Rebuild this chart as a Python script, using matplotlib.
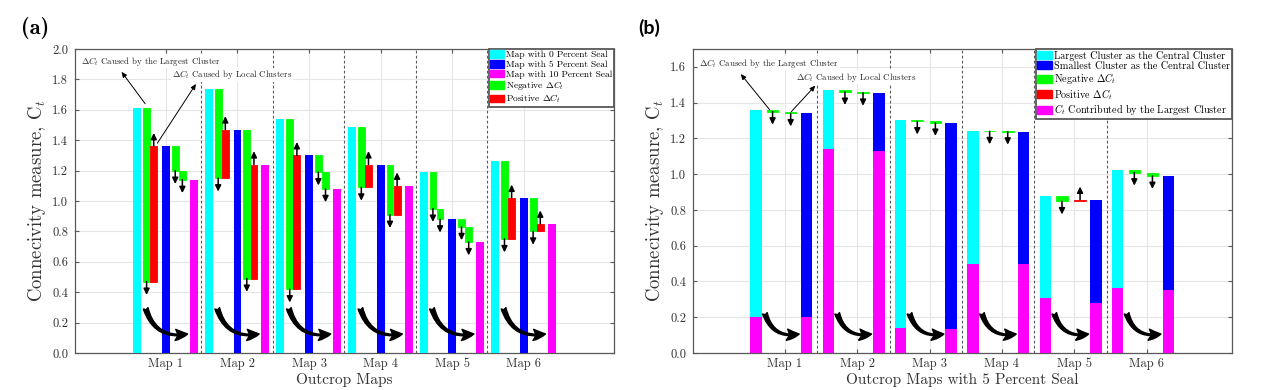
import numpy as np
import matplotlib
matplotlib.use('Agg')
import matplotlib.pyplot as plt
from matplotlib.patches import FancyArrowPatch, Patch

plt.rcParams['font.family'] = 'cmr10'
plt.rcParams['mathtext.fontset'] = 'cm'
plt.rcParams['axes.formatter.use_mathtext'] = True

#Data
maps = ['Map 1', 'Map 2', 'Map 3', 'Map 4', 'Map 5', 'Map 6']

#(a) Ct for seal percentages and intermediate levels
a_seal0 = [1.61, 1.74, 1.54, 1.49, 1.19, 1.26]
a_mid0 = [0.47, 1.15, 0.42, 1.09, 0.95, 0.75]
a_seal5 = [1.36, 1.47, 1.30, 1.24, 0.88, 1.02]
a_mid5 = [1.20, 0.49, 1.19, 0.91, 0.83, 0.80]
a_seal10 = [1.14, 1.24, 1.08, 1.10, 0.73, 0.85]

#(b) Ct with largest / smallest central cluster (5 percent seal)
b_largest = [1.360, 1.468, 1.302, 1.244, 0.878, 1.022]
b_mid = [1.350, 1.460, 1.295, 1.240, 0.848, 1.009]
b_smallest = [1.340, 1.455, 1.287, 1.238, 0.858, 0.990]
b_contrib_largest = [0.20, 1.14, 0.14, 0.50, 0.31, 0.365]
b_contrib_smallest = [0.20, 1.13, 0.135, 0.50, 0.28, 0.355]

CYAN = '#00FFFF'
BLUE = '#0000FF'
MAGENTA = '#FF00FF'
GREEN = '#00FF00'
RED = '#FF0000'

x = np.arange(1, len(maps) + 1)


def small_arrow(ax, xc, y0, up, length):
    y1 = y0 + length if up else y0 - length
    ax.annotate('', xy=(xc, y1), xytext=(xc, y0),
                arrowprops=dict(arrowstyle='-|>,head_length=0.45,head_width=0.22',
                                color='k', lw=1.1, shrinkA=0, shrinkB=0,
                                mutation_scale=8))


def delta_bar(ax, xc, start, end, width, arrow_len):
    col = GREEN if end < start else RED
    ax.bar(xc, abs(end - start), bottom=min(start, end), width=width,
           color=col, edgecolor=col, linewidth=0.6, zorder=3)
    if end < start:
        small_arrow(ax, xc, min(start, end), False, arrow_len)
    else:
        small_arrow(ax, xc, max(start, end), True, arrow_len)


def style_axes(ax, xlim, ymax, yticks, xlabel):
    ax.set_xlim(*xlim)
    ax.set_ylim(0, ymax)
    ax.set_xticks(x)
    ax.set_xticklabels(maps)
    ax.set_yticks(yticks)
    ax.set_yticklabels(['%.1f' % t for t in yticks])
    ax.grid(True, color='0.9', lw=0.8)
    ax.set_axisbelow(True)
    ax.tick_params(direction='in', top=True, right=True, length=3,
                   color='0.35', labelcolor='0.2', labelsize=9)
    ax.tick_params(axis='y', pad=5)
    for s in ax.spines.values():
        s.set_color('0.35')
        s.set_linewidth(0.9)
    ax.set_xlabel(xlabel, fontsize=11, color='0.2', labelpad=2)
    ax.set_ylabel('Connecivity measure, C$_t$', fontsize=13.5, color='0.2', labelpad=3)


def curved_arrow(ax, p0, p1):
    ax.add_patch(FancyArrowPatch(p0, p1, connectionstyle='arc3,rad=0.45',
                                 arrowstyle='fancy,head_length=0.55,head_width=0.5,tail_width=0.22',
                                 mutation_scale=16, color='k', shrinkA=0, shrinkB=0, zorder=4))


def add_legend(ax, colors, labels, size):
    handles = [Patch(facecolor=c, edgecolor=c) for c in colors]
    leg = ax.legend(handles, labels, loc='upper right', fontsize=size, fancybox=False,
                    framealpha=1, edgecolor='0.35', borderaxespad=0, handlelength=1.5,
                    handleheight=0.85, handletextpad=0.2, borderpad=0.15, labelspacing=0.06)
    leg.get_frame().set_linewidth(1.3)


fig = plt.figure(figsize=(12.68, 3.9), dpi=100)
axa = fig.add_axes([75 / 1268, 37 / 390, 539 / 1268, 304 / 390])
axb = fig.add_axes([693 / 1268, 37 / 390, 539 / 1268, 304 / 390])

#Panel (a)
wm, wd = 0.11, 0.095
for i, k in enumerate(x):
    axa.bar(k - 0.40, a_seal0[i], width=wm, color=CYAN, zorder=3)
    axa.bar(k, a_seal5[i], width=wm, color=BLUE, zorder=3)
    axa.bar(k + 0.39, a_seal10[i], width=wm, color=MAGENTA, zorder=3)
    delta_bar(axa, k - 0.27, a_seal0[i], a_mid0[i], wd, 0.088)
    delta_bar(axa, k - 0.17, a_mid0[i], a_seal5[i], wd, 0.088)
    delta_bar(axa, k + 0.13, a_seal5[i], a_mid5[i], wd, 0.088)
    delta_bar(axa, k + 0.23, a_mid5[i], a_seal10[i], wd, 0.088)
    curved_arrow(axa, (k - 0.283, 0.294), (k + 0.303, 0.125))
for k in x[:-1]:
    axa.axvline(k + 0.49, color='0.35', lw=0.8, ls=(0, (2.5, 2)), zorder=2)

style_axes(axa, (-0.27, 7.26), 2.0, np.arange(0, 2.01, 0.2), 'Outcrop Maps')

axa.text(-0.19, 1.921, r'$\Delta C_t$ Caused by the Largest Cluster', fontsize=6.4,
         va='center', ha='left', color='0.15',
         bbox=dict(facecolor='white', edgecolor='none', pad=0.5), zorder=5)
axa.text(1.08, 1.829, r'$\Delta C_t$ Caused by Local Clusters', fontsize=6.4,
         va='center', ha='left', color='0.15',
         bbox=dict(facecolor='white', edgecolor='none', pad=0.5), zorder=5)
axa.annotate('', xy=(0.38, 1.85), xytext=(1 - 0.27 - 0.02, a_seal0[0] + 0.03),
             arrowprops=dict(arrowstyle='-|>,head_length=0.4,head_width=0.18',
                             color='k', lw=0.7, shrinkA=0, shrinkB=0, mutation_scale=8))
axa.annotate('', xy=(1.42, 1.77), xytext=(1 - 0.17 + 0.05, a_seal5[0] + 0.02),
             arrowprops=dict(arrowstyle='-|>,head_length=0.4,head_width=0.18',
                             color='k', lw=0.7, shrinkA=0, shrinkB=0, mutation_scale=8))

add_legend(axa, (CYAN, BLUE, MAGENTA, GREEN, RED),
           ['Map with 0 Percent Seal', 'Map with 5 Percent Seal', 'Map with 10 Percent Seal',
            r'Negative $\Delta C_t$', r'Positive $\Delta C_t$'], 6.8)

#Panel (b)
wb = 0.16
for i, k in enumerate(x):
    axb.bar(k - 0.40, b_largest[i] - b_contrib_largest[i], bottom=b_contrib_largest[i],
            width=wb, color=CYAN, zorder=3)
    axb.bar(k - 0.40, b_contrib_largest[i], width=wb, color=MAGENTA, zorder=3)
    axb.bar(k + 0.30, b_smallest[i] - b_contrib_smallest[i], bottom=b_contrib_smallest[i],
            width=wb, color=BLUE, zorder=3)
    axb.bar(k + 0.30, b_contrib_smallest[i], width=wb, color=MAGENTA, zorder=3)
    delta_bar(axb, k - 0.17, b_largest[i], b_mid[i], wb, 0.073)
    delta_bar(axb, k + 0.08, b_mid[i], b_smallest[i], wb, 0.073)
    curved_arrow(axb, (k - 0.277, 0.222), (k + 0.198, 0.106))
for k in x[:-1]:
    axb.axvline(k + 0.45, color='0.35', lw=0.8, ls=(0, (2.5, 2)), zorder=2)

style_axes(axb, (-0.27, 7.18), 1.7, np.arange(0, 1.61, 0.2), 'Outcrop Maps with 5 Percent Seal')

axb.text(-0.19, 1.621, r'$\Delta C_t$ Caused by the Largest Cluster', fontsize=6.4,
         va='center', ha='left', color='0.15',
         bbox=dict(facecolor='white', edgecolor='none', pad=0.5), zorder=5)
axb.text(1.15, 1.542, r'$\Delta C_t$ Caused by Local Clusters', fontsize=6.4,
         va='center', ha='left', color='0.15',
         bbox=dict(facecolor='white', edgecolor='none', pad=0.5), zorder=5)
axb.annotate('', xy=(0.39, 1.56), xytext=(1 - 0.21, b_largest[0]),
             arrowprops=dict(arrowstyle='-|>,head_length=0.4,head_width=0.18',
                             color='k', lw=0.7, shrinkA=0, shrinkB=0, mutation_scale=8))
axb.annotate('', xy=(1.42, 1.495), xytext=(1 + 0.09, b_mid[0]),
             arrowprops=dict(arrowstyle='-|>,head_length=0.4,head_width=0.18',
                             color='k', lw=0.7, shrinkA=0, shrinkB=0, mutation_scale=8))

add_legend(axb, (CYAN, BLUE, GREEN, RED, MAGENTA),
           ['Largest Cluster as the Central Cluster', 'Smallest Cluster as the Central Cluster',
            r'Negative $\Delta C_t$', r'Positive $\Delta C_t$',
            r'$C_t$ Contributed by the Largest Cluster'], 7.3)

fig.text(35 / 1268, 1 - 28 / 390, '(a)', fontsize=16, family='cmb10',
         ha='center', va='center')
fig.text(649 / 1268, 1 - 28 / 390, '(b)', fontsize=14, fontweight='bold',
         family='Lato', ha='center', va='center')

plt.savefig('out.png', dpi=100)
